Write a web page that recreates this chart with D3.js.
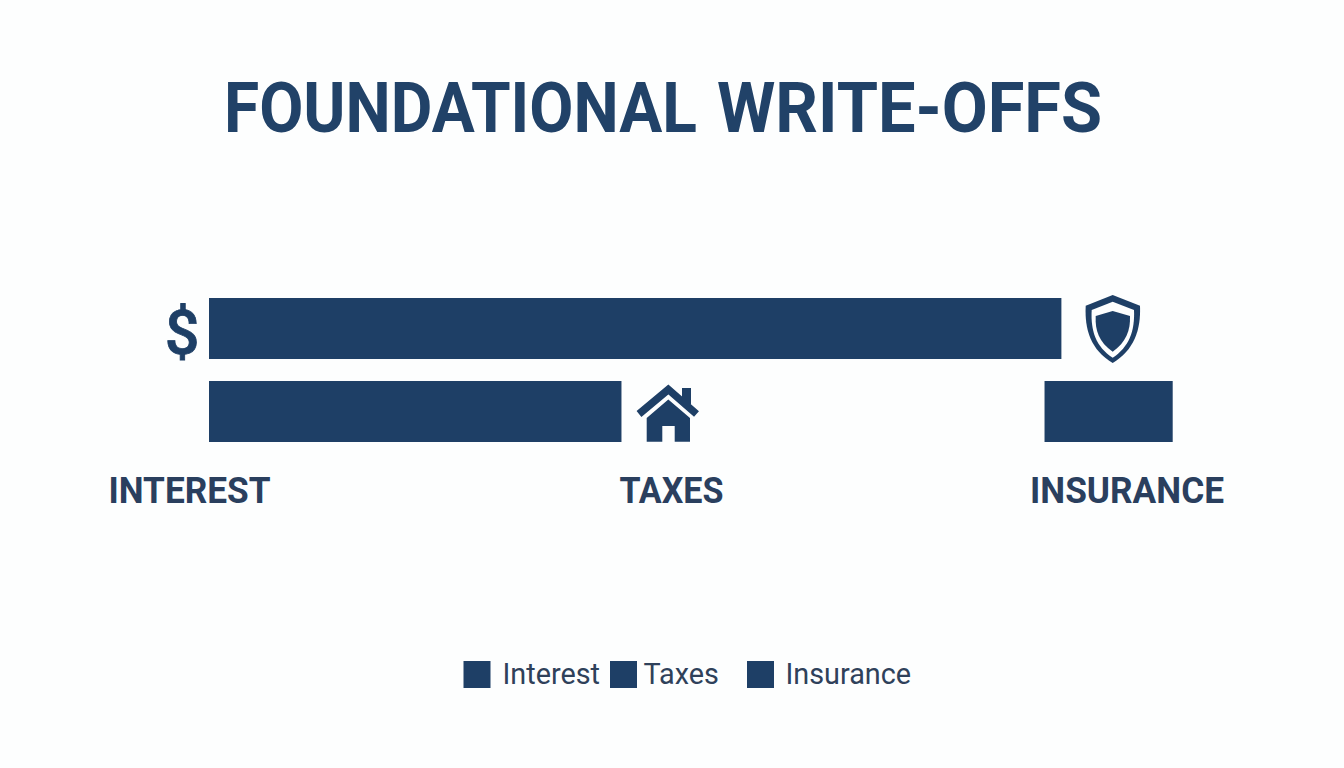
<!DOCTYPE html>
<html>
<head>
  <meta charset="utf-8">
  <script src="https://d3js.org/d3.v7.min.js"></script>
  <style>
    html, body { margin: 0; padding: 0; background: #fdfefe; }
    svg { display: block; }
    text { font-family: Roboto, sans-serif; }
  </style>
</head>
<body>
  <svg width="1344" height="768"></svg>
  <script>
    // values, on an arbitrary 0-100 scale (no axis in the original)
    var titleWords = ["FOUNDATIONAL", "WRITE-OFFS"];
    var categories = ["Interest", "Taxes", "Insurance"];
    var rows = ["upper", "lower", "lower"];
    var barStart = [0, 0, 86.7];
    var barEnd = [88.45, 42.8, 100];

    var navy = "#1e3f66";
    var titleColor = "#214268";
    var labelColor = "#2a3f5e";
    var legendColor = "#2f415a";

    var svg = d3.select("svg");

    var x = d3.scaleLinear().domain([0, 100]).range([209, 1172.7]);
    var y = d3.scaleBand().domain(["upper", "lower"]).range([298, 442]).paddingInner(0.265);
    var labelX = d3.scaleOrdinal().domain(categories).range([189.5, 671.5, 1127]);
    var labelWidth = d3.scaleOrdinal().domain(categories).range([162, 104, 194]);
    var legendX = d3.scaleOrdinal().domain(categories).range([463.5, 610, 747]);
    var legendTextX = d3.scaleOrdinal().domain(categories).range([502.5, 643.5, 785.5]);
    var titleX = d3.scaleOrdinal().domain(titleWords).range([224, 717]);
    var titleWidth = d3.scaleOrdinal().domain(titleWords).range([473, 385]);

    // the two title words are squeezed by different amounts in the original, so fit each one
    var title = svg.append("text")
      .attr("y", 131.5)
      .attr("font-size", 70)
      .attr("font-weight", 700)
      .attr("fill", titleColor);
    titleWords.forEach(function(w, i) {
      if (i > 0) title.node().appendChild(document.createTextNode(" "));
      title.append("tspan")
        .attr("x", titleX(w))
        .attr("textLength", titleWidth(w))
        .attr("lengthAdjust", "spacingAndGlyphs")
        .text(w);
    });

    svg.selectAll(".bar")
      .data(categories)
      .enter().append("rect")
      .attr("class", "bar")
      .attr("x", function(d, i) { return x(barStart[i]); })
      .attr("y", function(d, i) { return y(rows[i]); })
      .attr("width", function(d, i) { return x(barEnd[i]) - x(barStart[i]); })
      .attr("height", y.bandwidth())
      .attr("fill", navy);

    svg.selectAll(".cat-label")
      .data(categories)
      .enter().append("text")
      .attr("class", "cat-label")
      .attr("x", function(d) { return labelX(d); })
      .attr("y", 503)
      .attr("text-anchor", "middle")
      .attr("font-size", 37)
      .attr("font-weight", 700)
      .attr("fill", labelColor)
      .attr("textLength", function(d) { return labelWidth(d); })
      .attr("lengthAdjust", "spacingAndGlyphs")
      .text(function(d) { return d.toUpperCase(); });

    // dollar icon
    svg.append("text")
      .attr("x", 182)
      .attr("y", 354.3)
      .attr("text-anchor", "middle")
      .attr("font-size", 61)
      .attr("font-weight", 500)
      .attr("fill", navy)
      .attr("stroke", navy)
      .attr("stroke-width", 0.8)
      .text("$");

    // house icon
    var house = svg.append("g");
    house.append("path")
      .attr("d", "M639,414 L668.3,389.5 L696.5,414")
      .attr("fill", "none")
      .attr("stroke", navy)
      .attr("stroke-width", 7.5);
    house.append("rect")
      .attr("x", 682).attr("y", 388).attr("width", 9).attr("height", 16)
      .attr("fill", navy);
    house.append("path")
      .attr("d", "M668.3,399.5 L690,418 V441.7 H674.7 V426 H662.3 V441.7 H646.7 V418 Z")
      .attr("fill", navy);

    // shield icon
    var shield = svg.append("g");
    shield.append("path")
      .attr("d", "M1112.7,295 L1140,305.7 C1141,330 1134,350 1112.7,363 C1091,350 1084.5,330 1085.7,305.7 Z")
      .attr("fill", navy);
    shield.append("path")
      .attr("d", "M1112.7,301.7 L1134,310 C1135,331 1129,347 1112.7,357.7 C1096,347 1090.5,331 1091.7,310 Z")
      .attr("fill", "#fdfefe");
    shield.append("path")
      .attr("d", "M1112.7,311 L1130,316 C1130.5,331 1126,342 1112.7,351.7 C1099,342 1095,331 1095.7,316 Z")
      .attr("fill", navy);

    // legend
    svg.selectAll(".swatch")
      .data(categories)
      .enter().append("rect")
      .attr("class", "swatch")
      .attr("x", function(d) { return legendX(d); })
      .attr("y", 661)
      .attr("width", 27)
      .attr("height", 27)
      .attr("fill", navy);

    svg.selectAll(".legend-label")
      .data(categories)
      .enter().append("text")
      .attr("class", "legend-label")
      .attr("x", function(d) { return legendTextX(d); })
      .attr("y", 684)
      .attr("font-size", 28.8)
      .attr("fill", legendColor)
      .text(function(d) { return d; });
  </script>
</body>
</html>
